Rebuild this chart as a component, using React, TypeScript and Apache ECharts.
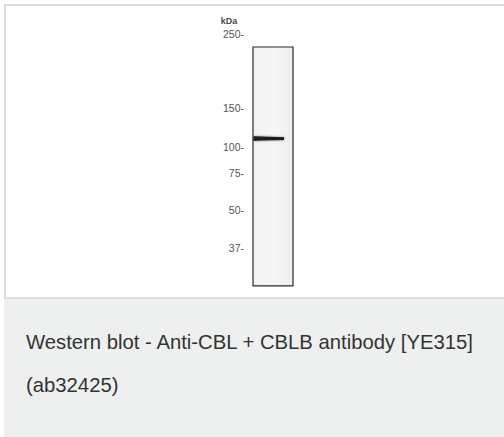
import React, { useEffect, useRef } from "react";
import * as echarts from "echarts";

// Molecular weight markers (kDa) and their migration distance (relative units, 0 = top)
const markerLabels = ["250", "150", "100", "75", "50", "37"];
const markerPositions = [5.2, 32.6, 47.2, 56.7, 70.4, 84.4];
const unitLabel = "kDa";
const unitPosition = 0.4;

// Lane extent (migration units) and lane width units
const laneTop = 10;
const laneBottom = 98.5;
const laneWidth = 40;

// Detected band (~120 kDa)
const bandPositions = [43.9];
const bandWidths = [31];

const captionLines = [
  "Western blot - Anti-CBL + CBLB antibody [YE315]",
  "(ab32425)",
];

export default function App() {
  const ref = useRef<HTMLDivElement>(null);
  useEffect(() => {
    if (!ref.current) return;
    const chart = echarts.init(ref.current, null, { renderer: "svg" });
    const option: any = {
      animation: false,
      backgroundColor: "#ffffff",
      grid: { left: 253, top: 20, width: 40, height: 270 },
      xAxis: { type: "value", min: 0, max: laneWidth, show: false },
      yAxis: { type: "value", min: 0, max: 100, inverse: true, show: false },
      graphic: [
        {
          type: "rect",
          z: -10,
          silent: true,
          shape: { x: 5, y: 5, width: 520, height: 293 },
          style: { fill: "#ffffff", stroke: "#dddddd", lineWidth: 2 },
        },
        {
          type: "rect",
          z: -10,
          silent: true,
          shape: { x: 4, y: 299, width: 500, height: 138 },
          style: { fill: "#eeefef" },
        },
        ...captionLines.map((t, i) => ({
          type: "text",
          z: 10,
          x: 26,
          y: 342 + i * 43,
          style: {
            text: t,
            fill: "#333333",
            fontSize: 20.3,
            fontFamily: "Liberation Sans",
            textVerticalAlign: "middle",
          },
        })),
      ],
      series: [
        {
          type: "custom",
          name: "lane",
          clip: false,
          data: [[0, laneTop, laneWidth, laneBottom]],
          renderItem: (params: any, api: any) => {
            const p1 = api.coord([api.value(0), api.value(1)]);
            const p2 = api.coord([api.value(2), api.value(3)]);
            return {
              type: "rect",
              shape: { x: p1[0], y: p1[1], width: p2[0] - p1[0], height: p2[1] - p1[1] },
              style: {
                fill: new echarts.graphic.LinearGradient(0, 0, 1, 0, [
                  { offset: 0, color: "#f2f2f2" },
                  { offset: 0.5, color: "#f6f6f6" },
                  { offset: 1, color: "#efefef" },
                ]),
                stroke: "#2a2a2a",
                lineWidth: 1.2,
              },
            };
          },
        },
        {
          type: "custom",
          name: "band",
          clip: false,
          z: 3,
          data: bandPositions.map((p, i) => [0, p, bandWidths[i]]),
          renderItem: (params: any, api: any) => {
            const p1 = api.coord([api.value(0), api.value(1)]);
            const p2 = api.coord([api.value(2), api.value(1)]);
            return {
              type: "polygon",
              shape: {
                points: [
                  [p1[0] + 0.5, p1[1] - 2.2],
                  [p2[0], p2[1] - 1.4],
                  [p2[0], p2[1] + 1.4],
                  [p1[0] + 0.5, p1[1] + 2.2],
                ],
              },
              style: {
                fill: "#1e1e1e",
                shadowBlur: 2,
                shadowColor: "rgba(0,0,0,0.5)",
              },
            };
          },
        },
        {
          type: "custom",
          name: "markers",
          clip: false,
          data: markerPositions.map((p, i) => [0, p, i]),
          renderItem: (params: any, api: any) => {
            const c = api.coord([api.value(0), api.value(1)]);
            const idx = api.value(2);
            return {
              type: "text",
              x: c[0] - 9,
              y: c[1],
              style: {
                text: markerLabels[idx] + "-",
                fill: "#555555",
                fontSize: 10.5,
                fontFamily: "Liberation Sans",
                textAlign: "right",
                textVerticalAlign: "middle",
              },
            };
          },
        },
        {
          type: "custom",
          name: "unit",
          clip: false,
          data: [[0, unitPosition]],
          renderItem: (params: any, api: any) => {
            const c = api.coord([api.value(0), api.value(1)]);
            return {
              type: "text",
              x: c[0] - 24,
              y: c[1],
              style: {
                text: unitLabel,
                fill: "#4a4a4a",
                fontSize: 9,
                fontWeight: "bold",
                fontFamily: "Liberation Sans",
                textAlign: "center",
                textVerticalAlign: "middle",
              },
            };
          },
        },
      ],
    };
    chart.setOption(option);
    return () => chart.dispose();
  }, []);
  return (
    <div
      ref={ref}
      style={{ position: "fixed", left: 0, top: 0, width: 504, height: 437 }}
    />
  );
}
